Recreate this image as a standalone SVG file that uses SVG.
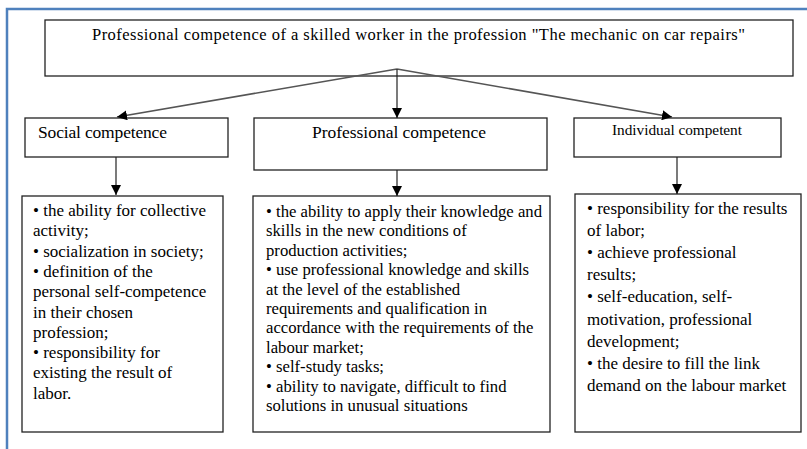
<svg xmlns="http://www.w3.org/2000/svg" width="807" height="449" viewBox="0 0 807 449">
<defs>
<marker id="ah" viewBox="0 0 10 10" refX="10" refY="5" markerWidth="10" markerHeight="10" markerUnits="userSpaceOnUse" orient="auto">
<path d="M0,0 L10,5 L0,10 Z" fill="#000"/>
</marker>
</defs>
<style>
.box{fill:#fff;stroke:#222;stroke-width:1.3}
text{font-family:'Liberation Serif','Times New Roman','DejaVu Serif',serif;fill:#000}
.h{font-size:17.5px}
.b{font-size:17px}
.p{font-size:16.7px}
.c{stroke:#222;stroke-width:1.2;fill:none}
.d{stroke:#555;stroke-width:1.6;fill:none}
</style>
<rect x="0" y="0" width="807" height="449" fill="#fff"/>
<path d="M7,449 V9 H807" fill="none" stroke="#4f81bd" stroke-width="2.5"/>
<g id="root">
<rect class="box" x="45" y="20" width="748" height="56"/>
<text x="92" y="40" font-size="16.5" textLength="653">Professional competence of a skilled worker in the profession "The mechanic on car repairs"</text>
</g>
<g id="social">
<rect class="box" x="25" y="118" width="203" height="39"/>
<text class="h" x="38" y="138" textLength="129">Social competence</text>
</g>
<g id="professional">
<rect class="box" x="254" y="118" width="293" height="52"/>
<text class="h" x="312" y="138" textLength="174">Professional competence</text>
</g>
<g id="individual">
<rect class="box" x="574" y="118" width="207" height="39"/>
<text x="612" y="135" font-size="15.3" textLength="130">Individual competent</text>
</g>
<g id="social-list">
<rect class="box" x="22" y="196" width="201" height="236"/>
<text class="b">
<tspan x="33" y="216">• the ability for collective</tspan>
<tspan x="33" y="236.3">activity;</tspan>
<tspan x="33" y="256.6">• socialization in society;</tspan>
<tspan x="33" y="276.9">• definition of the</tspan>
<tspan x="33" y="297.2">personal self-competence</tspan>
<tspan x="33" y="317.5">in their chosen</tspan>
<tspan x="33" y="337.8">profession;</tspan>
<tspan x="33" y="358.1">• responsibility for</tspan>
<tspan x="33" y="378.4">existing the result of</tspan>
<tspan x="33" y="398.7">labor.</tspan>
</text>
</g>
<g id="professional-list">
<rect class="box" x="253" y="196" width="297" height="236"/>
<text class="p">
<tspan x="266" y="217">• the ability to apply their knowledge and</tspan>
<tspan x="266" y="236.4">skills in the new conditions of</tspan>
<tspan x="266" y="255.8">production activities;</tspan>
<tspan x="266" y="275.2">• use professional knowledge and skills</tspan>
<tspan x="266" y="294.6">at the level of the established</tspan>
<tspan x="266" y="314">requirements and qualification in</tspan>
<tspan x="266" y="333.4">accordance with the requirements of the</tspan>
<tspan x="266" y="352.8">labour market;</tspan>
<tspan x="266" y="372.2">• self-study tasks;</tspan>
<tspan x="266" y="391.6">• ability to navigate, difficult to find</tspan>
<tspan x="266" y="411">solutions in unusual situations</tspan>
</text>
</g>
<g id="individual-list">
<rect class="box" x="575" y="194" width="226" height="238"/>
<text class="b">
<tspan x="587" y="214">• responsibility for the results</tspan>
<tspan x="587" y="236.1">of labor;</tspan>
<tspan x="587" y="258.2">• achieve professional</tspan>
<tspan x="587" y="280.3">results;</tspan>
<tspan x="587" y="302.4">• self-education, self-</tspan>
<tspan x="587" y="324.5">motivation, professional</tspan>
<tspan x="587" y="346.6">development;</tspan>
<tspan x="587" y="368.7">• the desire to fill the link</tspan>
<tspan x="587" y="390.8">demand on the labour market</tspan>
</text>
</g>
<g id="connectors">
<line class="d" x1="397" y1="69" x2="117" y2="117" marker-end="url(#ah)"/>
<line class="d" x1="397" y1="69" x2="672" y2="117" marker-end="url(#ah)"/>
<line class="c" x1="397" y1="69" x2="397" y2="118" marker-end="url(#ah)"/>
<line class="c" x1="116" y1="157" x2="116" y2="195" marker-end="url(#ah)"/>
<line class="c" x1="397" y1="170" x2="397" y2="196" marker-end="url(#ah)"/>
<line class="c" x1="677" y1="157" x2="677" y2="194" marker-end="url(#ah)"/>
</g>
</svg>
